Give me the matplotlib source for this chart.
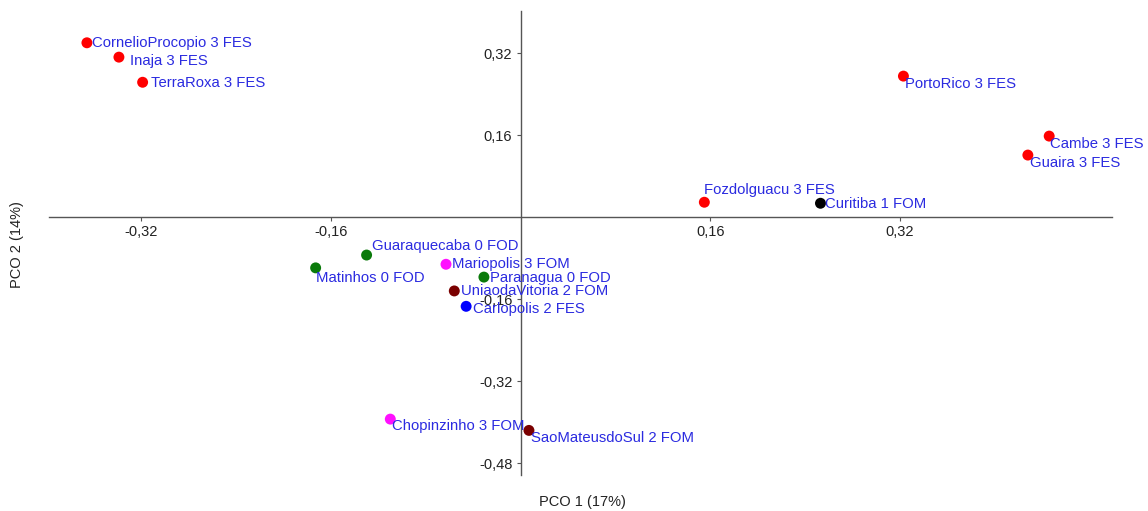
import matplotlib
matplotlib.use("Agg")
import matplotlib.pyplot as plt
from matplotlib.ticker import FixedLocator, FuncFormatter

plt.rcParams['font.family'] = ['Liberation Sans', 'DejaVu Sans']

# ---- data ----
sites = ["CornelioProcopio 3 FES", "Inaja 3 FES", "TerraRoxa 3 FES", "PortoRico 3 FES",
         "Cambe 3 FES", "Guaira 3 FES", "Fozdolguacu 3 FES", "Curitiba 1 FOM",
         "Guaraquecaba 0 FOD", "Matinhos 0 FOD", "Mariopolis 3 FOM", "Paranagua 0 FOD",
         "UniaodaVitoria 2 FOM", "Carlopolis 2 FES", "Chopinzinho 3 FOM", "SaoMateusdoSul 2 FOM"]
pco1 = [-0.366, -0.339, -0.319, 0.323, 0.446, 0.428, 0.155, 0.253,
        -0.130, -0.173, -0.063, -0.031, -0.056, -0.046, -0.110, 0.007]
pco2 = [0.340, 0.312, 0.263, 0.275, 0.158, 0.121, 0.029, 0.027,
        -0.074, -0.099, -0.092, -0.117, -0.144, -0.174, -0.394, -0.416]
groups = ["FES3", "FES3", "FES3", "FES3", "FES3", "FES3", "FES3", "FOM1",
          "FOD0", "FOD0", "FOM3", "FOD0", "FOM2", "FES2", "FOM3", "FOM2"]
xticks = [-0.32, -0.16, 0.16, 0.32]
yticks = [-0.48, -0.32, -0.16, 0.16, 0.32]
xlabel = "PCO 1 (17%)"
ylabel = "PCO 2 (14%)"

# ---- styles ----
group_colors = {"FES3": "#ff0000", "FOM1": "#000000", "FOD0": "#0a7a0a",
                "FOM3": "#ff10ff", "FOM2": "#7a0000", "FES2": "#0000ff"}
# label offsets in pixels (dx, dy) relative to the point
label_offsets = {
    "CornelioProcopio 3 FES": (5, 0), "Inaja 3 FES": (11, -4), "TerraRoxa 3 FES": (8, -1),
    "PortoRico 3 FES": (2, -8), "Cambe 3 FES": (1, -8), "Guaira 3 FES": (2, -8),
    "Fozdolguacu 3 FES": (0, 12), "Curitiba 1 FOM": (5, -1), "Guaraquecaba 0 FOD": (5, 9),
    "Matinhos 0 FOD": (0, -10), "Mariopolis 3 FOM": (6, 0), "Paranagua 0 FOD": (6, -1),
    "UniaodaVitoria 2 FOM": (7, 0), "Carlopolis 2 FES": (7, -3),
    "Chopinzinho 3 FOM": (2, -7), "SaoMateusdoSul 2 FOM": (2, -8),
}

W, H = 1148, 511
fig = plt.figure(figsize=(W / 100, H / 100), dpi=100)
ax = fig.add_axes([49 / W, 1 - 475 / H, (1112 - 49) / W, (475 - 11) / H])

ax.scatter(pco1, pco2, s=62, c=[group_colors[g] for g in groups], zorder=3, linewidths=0)
for name, x, y in zip(sites, pco1, pco2):
    dx, dy = label_offsets[name]
    ax.annotate(name, (x, y), xytext=(dx, dy), textcoords='offset pixels',
                ha='left', va='center', fontsize=10.7, color='#2b2be0', zorder=4)

ax.set_xlim(-0.398, 0.499)
ax.set_ylim(-0.503, 0.402)
for s in ['top', 'right']:
    ax.spines[s].set_visible(False)
ax.spines['left'].set_position(('data', 0))
ax.spines['bottom'].set_position(('data', 0))
for s in ['left', 'bottom']:
    ax.spines[s].set_color('#555555')
    ax.spines[s].set_linewidth(1.0)

fmt = FuncFormatter(lambda v, p: f"{v:.2f}".replace('.', ','))
ax.xaxis.set_major_locator(FixedLocator(xticks))
ax.yaxis.set_major_locator(FixedLocator(yticks))
ax.xaxis.set_major_formatter(fmt)
ax.yaxis.set_major_formatter(fmt)
ax.tick_params(axis='both', length=3, width=0.8, color='#555555',
               labelsize=10.5, labelcolor='#222222', pad=3)

fig.text(582 / W, 1 - 502 / H, xlabel, ha='center', va='center', fontsize=10.5, color='#222222')
fig.text(17 / W, 1 - 245 / H, ylabel, ha='center', va='center', rotation=90,
         fontsize=10.5, color='#222222')

fig.savefig("out.png", dpi=100)
